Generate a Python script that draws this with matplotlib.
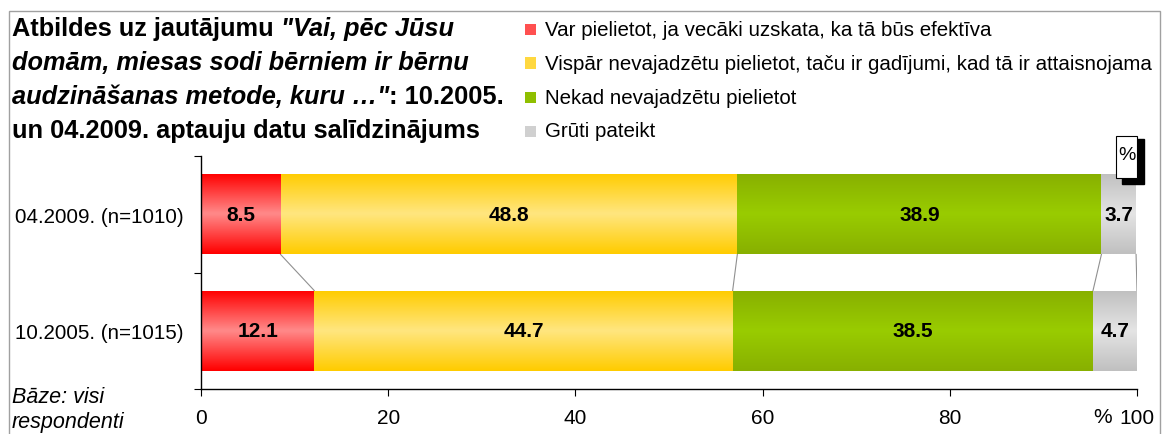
import matplotlib
matplotlib.use('Agg')
import matplotlib.pyplot as plt
import numpy as np
from matplotlib.patches import Rectangle
from matplotlib.colors import to_rgb

plt.rcParams['font.family'] = ['Liberation Sans', 'DejaVu Sans']

# %% Data
categories = ['10.2005. (n=1015)', '04.2009. (n=1010)']
series_labels = [
    'Var pielietot, ja vecāki uzskata, ka tā būs efektīva',
    'Vispār nevajadzētu pielietot, taču ir gadījumi, kad tā ir attaisnojama',
    'Nekad nevajadzētu pielietot',
    'Grūti pateikt',
]
# values per series, order matches categories
var_pielietot = [12.1, 8.5]
vispar_nevajadzetu = [44.7, 48.8]
nekad = [38.5, 38.9]
gruti = [4.7, 3.7]
series_values = [var_pielietot, vispar_nevajadzetu, nekad, gruti]

x_ticks = [0, 20, 40, 60, 80, 100]

# gradient colours (edge, centre)
edge_cols = ['#ff0000', '#ffcc00', '#88b000', '#c0c0c0']
centre_cols = ['#ff8a8a', '#ffe680', '#99cc00', '#e4e4e4']
legend_cols = ['#ff5050', '#ffd840', '#8fbf00', '#d0d0d0']

# %% Figure
fig = plt.figure(figsize=(11.64, 4.35), dpi=100)
ax = fig.add_axes([201 / 1164, 1 - 390 / 435, (1137 - 201) / 1164, (390 - 157) / 435])

ypos = np.arange(len(categories))
bar_h = 0.69
left = np.zeros(len(categories))
for vals, e, c in zip(series_values, edge_cols, centre_cols):
    bars = ax.barh(ypos, vals, left=left, height=bar_h, color=c, edgecolor='none')
    # vertical gradient: edge -> centre -> edge
    t = 1 - np.abs(np.linspace(-1, 1, 64))
    grad = np.array(to_rgb(e))[None, :] * (1 - t[:, None]) + np.array(to_rgb(c))[None, :] * t[:, None]
    grad = grad[:, None, :]
    for p in bars:
        x0, y0 = p.get_x(), p.get_y()
        im = ax.imshow(grad, extent=(x0, x0 + p.get_width(), y0, y0 + p.get_height()),
                       aspect='auto', zorder=2, interpolation='bilinear')
        im.set_clip_path(p)
    for p, v in zip(bars, vals):
        ax.text(p.get_x() + p.get_width() / 2, p.get_y() + p.get_height() / 2, f'{v:.1f}',
                ha='center', va='center', fontsize=15, fontweight='bold', zorder=4)
    left = left + np.array(vals)

# series lines between bars
cum = np.cumsum(np.array(series_values), axis=0)
for row in cum:
    ax.plot([row[1], row[0]], [ypos[1] - bar_h / 2, ypos[0] + bar_h / 2],
            color='#909090', lw=0.8, zorder=1)

ax.set_xlim(0, 100)
ax.set_ylim(-0.5, len(categories) - 0.5)
ax.set_xticks(x_ticks)
ax.set_xticklabels([str(v) for v in x_ticks], fontsize=15)
ax.set_yticks([-0.5, 0.5, 1.5])
ax.set_yticklabels([])
ax.set_yticks(ypos, minor=True)
ax.set_yticklabels(categories, minor=True, fontsize=14.8)
ax.tick_params(axis='y', which='minor', length=0, pad=12.5)
ax.tick_params(axis='y', which='major', length=5, width=0.8, direction='out')
ax.tick_params(axis='x', length=5, width=0.8, pad=9)
for s in ['top', 'right']:
    ax.spines[s].set_visible(False)
for s in ['left', 'bottom']:
    ax.spines[s].set_linewidth(1)
fig.text(1103 / 1164, 1 - 418 / 435, '%', fontsize=15, ha='center', va='center')

# % box in the corner
fig.patches.append(Rectangle((1122 / 1164, 1 - 185 / 435), 22 / 1164, 45 / 435,
                             transform=fig.transFigure, facecolor='black', edgecolor='black'))
fig.patches.append(Rectangle((1116 / 1164, 1 - 179 / 435), 21 / 1164, 42 / 435,
                             transform=fig.transFigure, facecolor='white', edgecolor='black', lw=0.8))
fig.text(1126.5 / 1164, 1 - 156 / 435, '%', fontsize=14, ha='center', va='center')

# outer frame
fig.patches.append(Rectangle((9 / 1164, -0.05), (1160 - 9) / 1164, 1.05 - 12 / 435,
                             transform=fig.transFigure, facecolor='none', edgecolor='#a0a0a0', lw=1))

# legend
for i, (lab, c) in enumerate(zip(series_labels, legend_cols)):
    yc = 1 - (30 + 34 * i) / 435
    fig.patches.append(Rectangle((525 / 1164, yc - 5.5 / 435), 11 / 1164, 11 / 435,
                                 transform=fig.transFigure, facecolor=c, edgecolor='none'))
    fig.text(545 / 1164, yc, lab, fontsize=14.8, ha='left', va='center')

# title with mixed bold / bold italic
title_parts = [
    [('Atbildes uz jautājumu ', 'normal'), ('"Vai, pēc Jūsu', 'italic')],
    [('domām, miesas sodi bērniem ir bērnu', 'italic')],
    [('audzināšanas metode, kuru …"', 'italic'), (': 10.2005.', 'normal')],
    [('un 04.2009. aptauju datu salīdzinājums', 'normal')],
]
for i, parts in enumerate(title_parts):
    yb = 1 - (36 + 34 * i) / 435
    prev = None
    for txt, style in parts:
        if prev is None:
            prev = fig.text(12 / 1164, yb, txt, fontsize=18.3, fontweight='bold', style=style,
                            ha='left', va='baseline')
        else:
            prev = ax.annotate(txt, xy=(1, 0), xycoords=prev, fontsize=18.3, fontweight='bold',
                               style=style, ha='left', va='bottom', annotation_clip=False)

fig.text(12 / 1164, 1 - 398 / 435, 'Bāze: visi', fontsize=15.5, style='italic', va='center')
fig.text(12 / 1164, 1 - 423 / 435, 'respondenti', fontsize=15.5, style='italic', va='center')

fig.savefig('out.png', dpi=100)
